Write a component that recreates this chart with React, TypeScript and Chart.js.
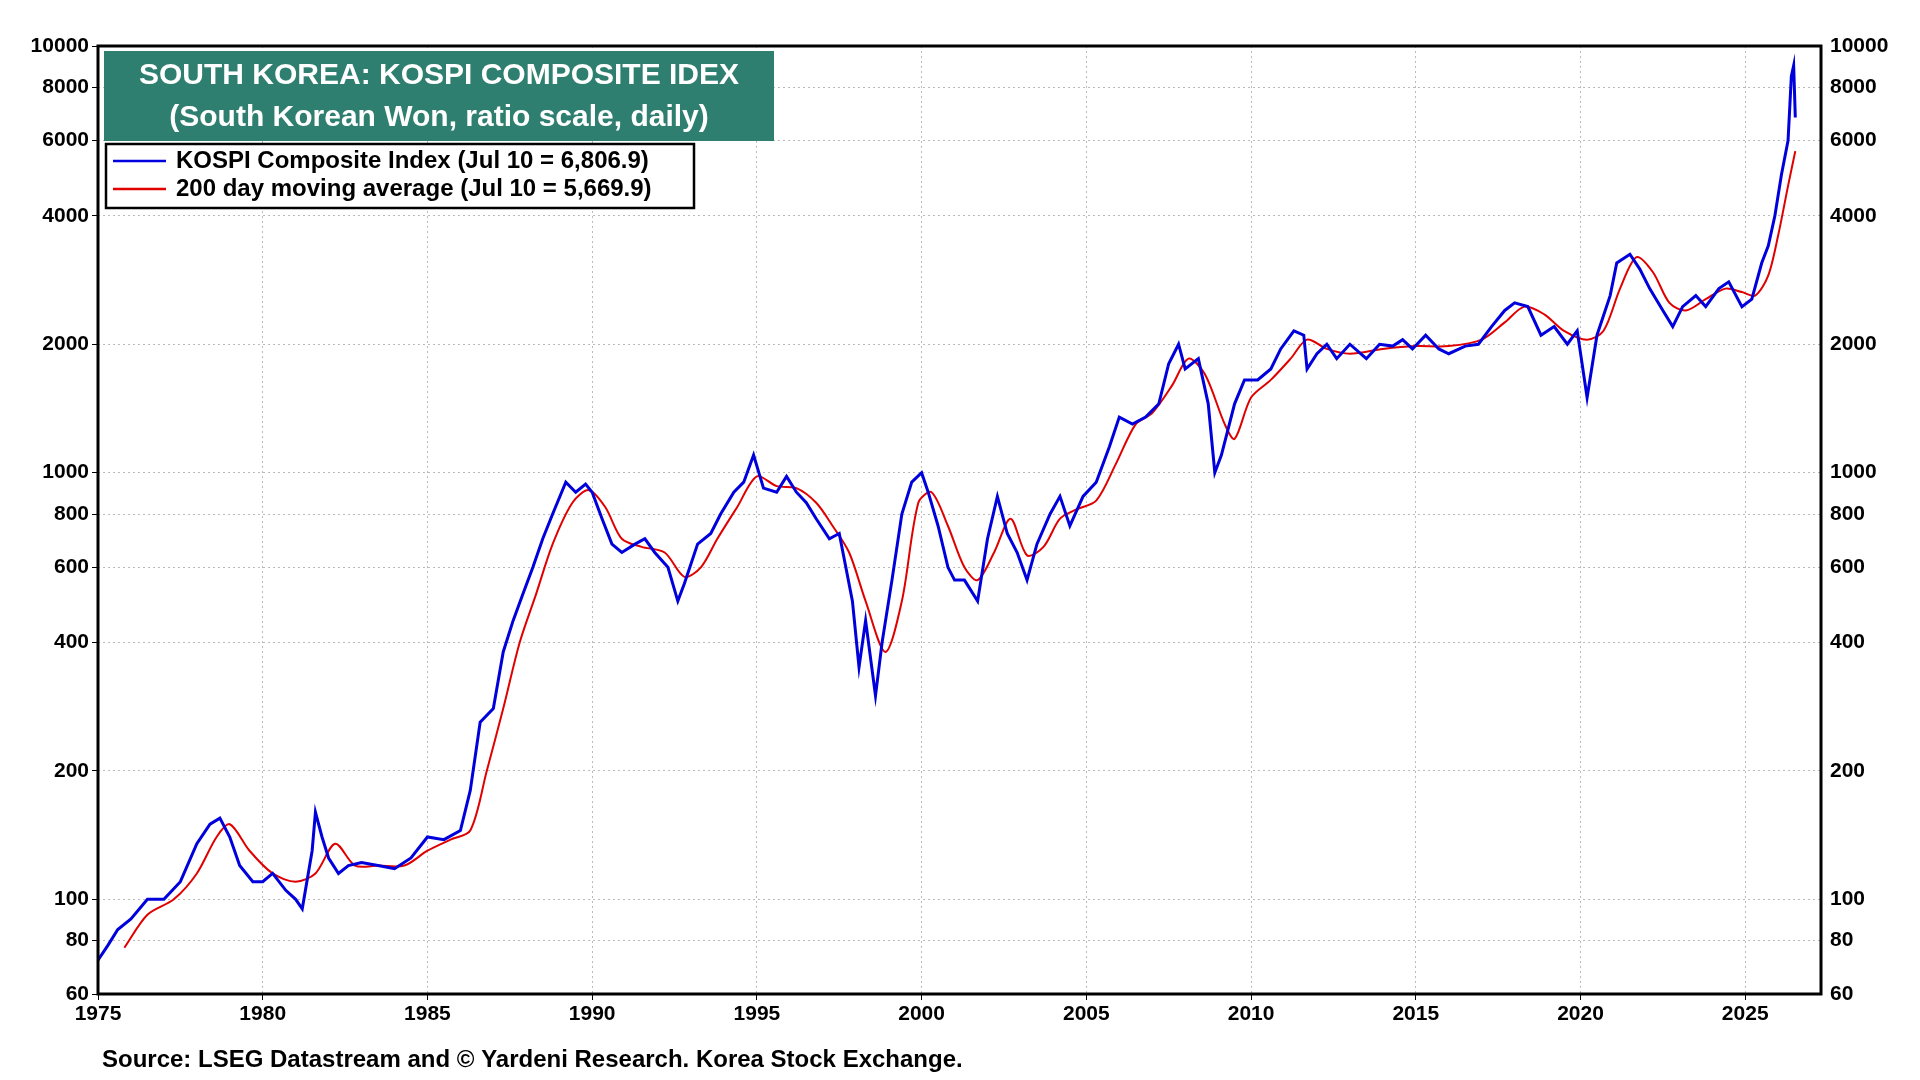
import React, { useEffect, useRef } from "react";
import { Chart, registerables } from "chart.js";
Chart.register(...registerables);

const kospiYears = [1975.0,1975.3,1975.6,1976.0,1976.5,1977.0,1977.5,1978.0,1978.4,1978.7,1979.0,1979.3,1979.7,1980.0,1980.3,1980.7,1981.0,1981.2,1981.5,1981.6,1981.8,1982.0,1982.3,1982.6,1983.0,1983.5,1984.0,1984.5,1985.0,1985.5,1986.0,1986.3,1986.6,1987.0,1987.3,1987.6,1987.9,1988.2,1988.5,1988.8,1989.2,1989.5,1989.8,1990.0,1990.3,1990.6,1990.9,1991.3,1991.6,1991.9,1992.3,1992.6,1992.8,1993.2,1993.6,1993.9,1994.3,1994.6,1994.9,1995.2,1995.6,1995.9,1996.2,1996.5,1996.8,1997.2,1997.5,1997.9,1998.1,1998.3,1998.6,1998.8,1999.1,1999.4,1999.7,2000.0,2000.2,2000.5,2000.8,2001.0,2001.3,2001.7,2002.0,2002.3,2002.6,2002.9,2003.2,2003.5,2003.9,2004.2,2004.5,2004.9,2005.3,2005.7,2006.0,2006.4,2006.8,2007.2,2007.5,2007.8,2008.0,2008.4,2008.7,2008.9,2009.1,2009.5,2009.8,2010.2,2010.6,2010.9,2011.3,2011.6,2011.7,2012.0,2012.3,2012.6,2013.0,2013.5,2013.9,2014.3,2014.6,2014.9,2015.3,2015.7,2016.0,2016.5,2016.9,2017.3,2017.7,2018.0,2018.4,2018.8,2019.2,2019.6,2019.9,2020.2,2020.5,2020.9,2021.1,2021.5,2021.8,2022.1,2022.5,2022.8,2023.1,2023.5,2023.8,2024.2,2024.5,2024.9,2025.2,2025.5,2025.7,2025.9,2026.1,2026.3,2026.4,2026.47,2026.52];
const kospiValues = [72,78,85,90,100,100,110,135,150,155,140,120,110,110,115,105,100,95,130,160,140,125,115,120,122,120,118,125,140,138,145,180,260,280,380,450,520,600,700,800,950,900,940,900,780,680,650,680,700,650,600,500,550,680,720,800,900,950,1100,920,900,980,900,850,780,700,720,500,350,450,300,400,560,800,950,1000,900,750,600,560,560,500,700,880,720,650,560,680,800,880,750,880,950,1150,1350,1300,1350,1450,1800,2000,1750,1850,1450,1000,1100,1450,1650,1650,1750,1950,2150,2100,1750,1900,2000,1850,2000,1850,2000,1980,2050,1950,2100,1950,1900,1980,2000,2200,2400,2500,2450,2100,2200,2000,2150,1500,2100,2600,3100,3250,3000,2700,2400,2200,2450,2600,2450,2700,2800,2450,2550,3100,3400,4000,5000,6000,8500,9000,6800];

const maYears = [1975.8,1976.5,1977.3,1978.0,1978.6,1979.0,1979.6,1980.3,1981.0,1981.6,1982.2,1982.8,1983.5,1984.3,1985.0,1985.7,1986.3,1986.8,1987.3,1987.8,1988.3,1988.8,1989.4,1989.9,1990.4,1990.9,1991.5,1992.2,1992.8,1993.3,1993.8,1994.4,1995.0,1995.6,1996.2,1996.8,1997.3,1997.8,1998.3,1998.9,1999.4,1999.9,2000.3,2000.8,2001.3,2001.7,2002.2,2002.7,2003.2,2003.7,2004.2,2004.7,2005.3,2005.9,2006.5,2007.0,2007.6,2008.1,2008.6,2009.2,2009.5,2010.0,2010.6,2011.2,2011.7,2012.3,2013.0,2014.0,2015.0,2016.0,2017.0,2017.7,2018.3,2018.9,2019.5,2020.2,2020.7,2021.2,2021.7,2022.2,2022.7,2023.2,2023.8,2024.4,2024.9,2025.3,2025.7,2026.0,2026.3,2026.52];
const maValues = [77,92,100,115,140,150,130,115,110,115,135,120,120,120,130,138,145,200,280,400,520,680,850,910,830,700,670,650,570,600,700,830,980,930,920,850,750,650,500,380,500,850,900,750,600,560,650,780,640,670,780,820,860,1050,1300,1380,1600,1850,1700,1300,1200,1500,1650,1850,2050,1950,1900,1950,1980,1980,2050,2250,2450,2350,2150,2050,2150,2700,3200,2950,2500,2400,2550,2700,2650,2600,2900,3600,4700,5670];

const yTicks = [60, 80, 100, 200, 400, 600, 800, 1000, 2000, 4000, 6000, 8000, 10000];
const xTicks = [1975, 1980, 1985, 1990, 1995, 2000, 2005, 2010, 2015, 2020, 2025];
const titleLines = ["SOUTH KOREA: KOSPI COMPOSITE IDEX", "(South Korean Won, ratio scale, daily)"];
const legendLabels = ["KOSPI Composite Index (Jul 10 = 6,806.9)", "200 day moving average (Jul 10 = 5,669.9)"];
const sourceText = "Source: LSEG Datastream and \u00a9 Yardeni Research. Korea Stock Exchange.";

const FONT = "'Liberation Sans', Arial, sans-serif";

export default function App() {
  const ref = useRef<HTMLCanvasElement>(null);
  useEffect(() => {
    const overlay = {
      id: "overlay",
      afterDraw(chart: any) {
        const { ctx, chartArea: a } = chart;
        ctx.save();
        ctx.strokeStyle = "#000";
        ctx.lineWidth = 3;
        ctx.strokeRect(a.left, a.top, a.right - a.left, a.bottom - a.top);
        ctx.fillStyle = "#2e7f6f";
        ctx.fillRect(104, 51, 670, 90);
        ctx.fillStyle = "#fff";
        ctx.font = `bold 30px ${FONT}`;
        ctx.textAlign = "center";
        ctx.textBaseline = "middle";
        ctx.fillText(titleLines[0], 439, 76);
        ctx.fillText(titleLines[1], 439, 118);
        ctx.fillStyle = "#fff";
        ctx.fillRect(106, 144, 588, 64);
        ctx.lineWidth = 2.5;
        ctx.strokeRect(106, 144, 588, 64);
        ctx.textAlign = "left";
        ctx.font = `bold 24px ${FONT}`;
        const cols = ["#0000dd", "#e00000"];
        legendLabels.forEach((t, i) => {
          const y = 161 + i * 28;
          ctx.strokeStyle = cols[i];
          ctx.lineWidth = 2.5;
          ctx.beginPath();
          ctx.moveTo(113, y);
          ctx.lineTo(166, y);
          ctx.stroke();
          ctx.fillStyle = "#000";
          ctx.fillText(t, 176, y);
        });
        ctx.font = `bold 24px ${FONT}`;
        ctx.fillText(sourceText, 102, 1060);
        ctx.restore();
      },
    };
    const tickFont = { family: FONT, size: 21, weight: "bold" as const };
    const yAxis = (pos: "left" | "right", w: number) => ({
      type: "logarithmic" as const,
      position: pos,
      min: 60,
      max: 10000,
      afterBuildTicks: (s: any) => { s.ticks = yTicks.map((v) => ({ value: v })); },
      afterFit: (s: any) => { s.width = w; },
      ticks: { color: "#000", font: tickFont, callback: (v: any) => String(v), padding: 3 },
      grid: { display: pos === "left", color: "#bbb", drawTicks: true, tickLength: 6, tickColor: "#000" },
      border: { display: false, dash: [2, 3] },
    });
    const chart = new Chart(ref.current!, {
      type: "line",
      data: {
        datasets: [
          { data: kospiYears.map((x, i) => ({ x, y: kospiValues[i] })), borderColor: "#0000dd", borderWidth: 3, pointRadius: 0, tension: 0 },
          { data: maYears.map((x, i) => ({ x, y: maValues[i] })), borderColor: "#e00000", borderWidth: 2, pointRadius: 0, tension: 0.3 },
        ],
      },
      options: {
        animation: false,
        responsive: false,
        layout: { padding: { top: 46, left: 0, right: 0, bottom: 0 } },
        plugins: { legend: { display: false }, tooltip: { enabled: false } },
        scales: {
          x: {
            type: "linear",
            min: 1975,
            max: 2027.3,
            afterBuildTicks: (s: any) => { s.ticks = xTicks.map((v) => ({ value: v })); },
            afterFit: (s: any) => { s.height = 86; },
            ticks: { color: "#000", font: tickFont, callback: (v: any) => String(v), maxRotation: 0, padding: 2 },
            grid: { color: "#bbb", tickLength: 6, tickColor: "#000" },
            border: { display: false, dash: [2, 3] },
          },
          y: yAxis("left", 98),
          y2: yAxis("right", 99),
        },
      },
      plugins: [overlay],
    });
    return () => chart.destroy();
  }, []);
  return (
    <div style={{ position: "fixed", left: 0, top: 0, width: 1920, height: 1080, background: "#fff" }}>
      <canvas ref={ref} width={1920} height={1080} style={{ width: 1920, height: 1080 }} />
    </div>
  );
}
